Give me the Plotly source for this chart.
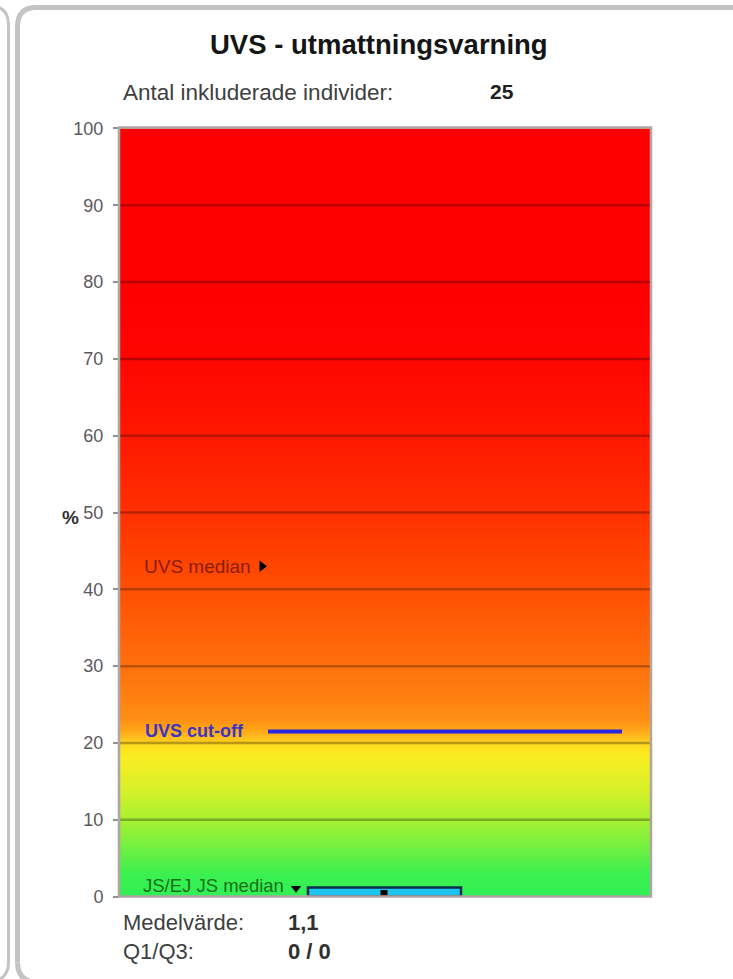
import numpy as np
import plotly.graph_objects as go

# ---------------- data ----------------
title_text = "UVS - utmattningsvarning"
n_label = "Antal inkluderade individer:"
n_individuals = 25
tick_vals = [0, 10, 20, 30, 40, 50, 60, 70, 80, 90, 100]
marker_labels = ["UVS median", "UVS cut-off", "JS/EJ JS median"]
uvs_median = 43.0
uvs_cutoff = 21.5
js_median = 1.1
box_low = 0.0
box_high = 1.2
box_point = 0.4
stat_labels = ["Medelvärde:", "Q1/Q3:"]
stat_values = ["1,1", "0 / 0"]

# ---------------- layout helpers ----------------
W, H = 733, 979
PX_L, PX_R = 120, 650      # plot area (pixels)
PY_T, PY_B = 127.5, 896


def px(x):
    return x / W


def py(y):
    # vertical placement in screen pixels (calibrated against the rendered page)
    return 1 - ((y - 9) / 0.98) / H


FONT = "Liberation Sans, Arial, sans-serif"

# background gradient colours (style)
grad_stops = [
    (0.00, "#30f055"), (0.03, "#3cf050"), (0.06, "#6cf042"), (0.10, "#a8f030"),
    (0.14, "#d8f028"), (0.18, "#f8ee22"), (0.195, "#ffe020"), (0.205, "#ffc41e"),
    (0.215, "#ffa818"), (0.23, "#ff9014"), (0.26, "#ff8010"), (0.30, "#ff700e"),
    (0.36, "#ff5c06"), (0.43, "#ff4600"), (0.50, "#ff3000"), (0.60, "#ff1800"),
    (0.70, "#ff0600"), (0.78, "#ff0000"), (1.00, "#ff0000"),
]

fig = go.Figure()

# gradient background
yy = np.arange(0, 100.001, 0.25)
fig.add_trace(go.Heatmap(
    x=[0, 530], y=yy, z=[[v, v] for v in yy],
    zmin=0, zmax=100, colorscale=[[s, c] for s, c in grad_stops],
    showscale=False, hoverinfo="skip", zsmooth=False,
))

# UVS median marker
fig.add_trace(go.Scatter(
    x=[142], y=[uvs_median], mode="markers",
    marker=dict(symbol="triangle-right", size=10, color="black"),
    hoverinfo="skip", cliponaxis=False,
))
# UVS cut-off line
fig.add_trace(go.Scatter(
    x=[148, 502], y=[uvs_cutoff, uvs_cutoff], mode="lines",
    line=dict(color="#2626e0", width=4), hoverinfo="skip",
))
# JS/EJ JS median marker
fig.add_trace(go.Scatter(
    x=[176], y=[js_median], mode="markers",
    marker=dict(symbol="triangle-down", size=9, color="black"),
    hoverinfo="skip", cliponaxis=False,
))
# box
fig.add_trace(go.Scatter(
    x=[188, 341, 341, 188, 188],
    y=[box_low, box_low, box_high, box_high, box_low],
    mode="lines", fill="toself", fillcolor="#1ec4f0",
    line=dict(color="#0c2c4c", width=2.5), hoverinfo="skip",
))
fig.add_trace(go.Scatter(
    x=[264], y=[box_point], mode="markers",
    marker=dict(symbol="square", size=7, color="black"),
    hoverinfo="skip", cliponaxis=False,
))

shapes = []
# gridlines above the gradient
for v in tick_vals[1:-1]:
    shapes.append(dict(type="line", xref="x domain", yref="y", x0=0, x1=1, y0=v, y1=v,
                       line=dict(color="rgba(0,0,0,0.28)", width=2.5), layer="above"))
# plot border
shapes.append(dict(type="rect", xref="paper", yref="paper",
                   x0=px(PX_L - 1), x1=px(PX_R + 1), y0=py(PY_B), y1=py(PY_T - 1),
                   line=dict(color="#b0a4a4", width=2.5), layer="above"))
# panel frame (this panel)
panel_path = (f"M {px(17.5)},{py(962)} L {px(17.5)},{py(26)} "
              f"Q {px(17.5)},{py(6.5)} {px(36)},{py(6.5)} L {px(740)},{py(6.5)}")
shapes.append(dict(type="path", xref="paper", yref="paper", path=panel_path,
                   line=dict(color="#c4c4c4", width=5)))
panel_bot = f"M {px(17.5)},{py(962)} Q {px(17.5)},{py(979)} {px(34)},{py(982)}"
shapes.append(dict(type="path", xref="paper", yref="paper", path=panel_bot,
                   line=dict(color="#c4c4c4", width=5)))
# neighbouring panel edge
nb_path = (f"M {px(-10)},{py(5)} Q {px(8.5)},{py(5)} {px(8.5)},{py(24)} "
           f"L {px(8.5)},{py(962)} Q {px(8.5)},{py(979)} {px(-10)},{py(982)}")
shapes.append(dict(type="path", xref="paper", yref="paper", path=nb_path,
                   line=dict(color="#c4c4c4", width=3)))

ann = []
ann.append(dict(text=f"<b>{title_text}</b>", x=px(379), y=py(44), xref="paper", yref="paper",
                showarrow=False, xanchor="center", yanchor="middle",
                font=dict(family=FONT, size=27.5, color="#151515")))
ann.append(dict(text=n_label, x=px(121), y=py(92), xref="paper", yref="paper",
                showarrow=False, xanchor="left", yanchor="middle",
                font=dict(family=FONT, size=22.5, color="#404040")))
ann.append(dict(text=f"<b>{n_individuals}</b>", x=px(488), y=py(91), xref="paper", yref="paper",
                showarrow=False, xanchor="left", yanchor="middle",
                font=dict(family=FONT, size=21, color="#202020")))
ann.append(dict(text="<b>%</b>", x=px(70), y=py(517), xref="paper", yref="paper",
                showarrow=False, xanchor="center", yanchor="middle",
                font=dict(family=FONT, size=19, color="#303030")))
# in-plot labels
ann.append(dict(text=marker_labels[0], x=133, y=uvs_median, xref="x", yref="y",
                showarrow=False, xanchor="right", yanchor="middle",
                font=dict(family=FONT, size=19, color="#8a1c08")))
ann.append(dict(text=f"<b>{marker_labels[1]}</b>", x=126, y=uvs_cutoff, xref="x", yref="y",
                showarrow=False, xanchor="right", yanchor="middle",
                font=dict(family=FONT, size=18, color="#3a36c0")))
ann.append(dict(text=marker_labels[2], x=166, y=js_median + 0.3, xref="x", yref="y",
                showarrow=False, xanchor="right", yanchor="middle",
                font=dict(family=FONT, size=18.5, color="#16701a")))
# stats below
for i, (lab, val) in enumerate(zip(stat_labels, stat_values)):
    yc = 922 + i * 29
    ann.append(dict(text=lab, x=px(121), y=py(yc), xref="paper", yref="paper",
                    showarrow=False, xanchor="left", yanchor="middle",
                    font=dict(family=FONT, size=22, color="#404040")))
    ann.append(dict(text=f"<b>{val}</b>", x=px(286), y=py(yc), xref="paper", yref="paper",
                    showarrow=False, xanchor="left", yanchor="middle",
                    font=dict(family=FONT, size=22, color="#303030")))

fig.update_layout(
    width=W, height=H, autosize=False,
    margin=dict(l=0, r=0, t=0, b=0),
    paper_bgcolor="white", plot_bgcolor="white",
    showlegend=False,
    xaxis=dict(domain=[px(PX_L), px(PX_R)], range=[0, 530], visible=False, fixedrange=True),
    yaxis=dict(domain=[py(PY_B), py(PY_T)], range=[0, 100], tickvals=tick_vals,
               ticks="outside", ticklen=6, tickwidth=2, tickcolor="#909090",
               ticklabelstandoff=6,
               tickfont=dict(family=FONT, size=18, color="#5a5a5a"),
               showgrid=False, zeroline=False, showline=False, fixedrange=True),
    shapes=shapes, annotations=ann,
)

fig.write_html("out.html", config={"displayModeBar": False},
               post_script="document.body.style.margin='0';document.body.style.overflow='hidden';")
